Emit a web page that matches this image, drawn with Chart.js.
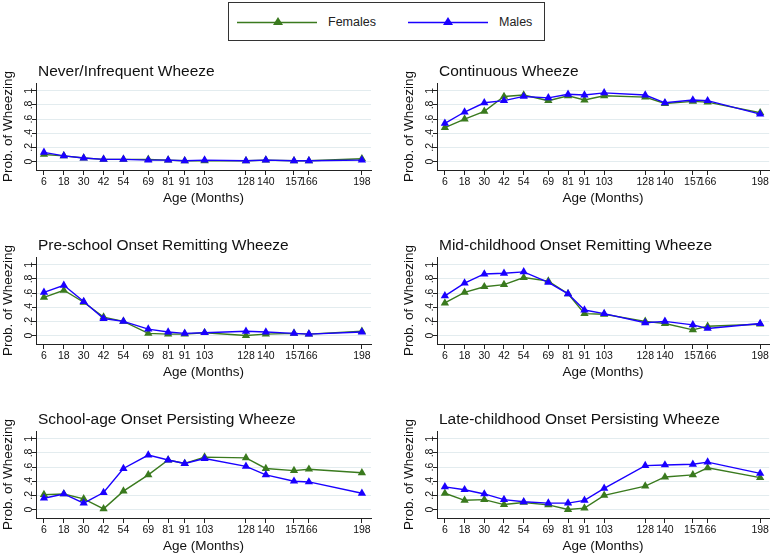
<!DOCTYPE html>
<html>
<head>
<meta charset="utf-8">
<script src="https://cdn.jsdelivr.net/npm/chart.js@4"></script>
<style>
  html, body { margin: 0; padding: 0; background: #fff; }
  body { width: 774px; height: 555px; position: relative; overflow: hidden; font-family: "Liberation Sans", Arial, sans-serif; }
  canvas { position: absolute; }
  #legend { position: absolute; left: 228px; top: 2px; width: 315px; height: 37px; border: 1px solid #333; box-sizing: content-box; }
  .lg { position: absolute; top: 0; height: 37px; }
  .lgt { position: absolute; top: 12px; font-size: 12.5px; color: #222; }
</style>
</head>
<body>
<div id="legend">
  <svg class="lg" style="left:8px" width="82" height="37"><line x1="0" y1="19.5" x2="80" y2="19.5" stroke="#3a7a1e" stroke-width="1.5"/><polygon points="41,14 46,22 36,22" fill="#3a7a1e"/></svg>
  <span class="lgt" style="left:99px">Females</span>
  <svg class="lg" style="left:179px" width="82" height="37"><line x1="0" y1="19.5" x2="80" y2="19.5" stroke="#1a00ff" stroke-width="1.5"/><polygon points="40,14 45,22 35,22" fill="#1a00ff"/></svg>
  <span class="lgt" style="left:270px">Males</span>
</div>
<canvas id="c0"></canvas>
<canvas id="c1"></canvas>
<canvas id="c2"></canvas>
<canvas id="c3"></canvas>
<canvas id="c4"></canvas>
<canvas id="c5"></canvas>
<script>
// ---- data ----
const ages = [6, 18, 30, 42, 54, 69, 81, 91, 103, 128, 140, 157, 166, 198];
const yTickValues = [0, 0.2, 0.4, 0.6, 0.8, 1];
const yTickLabels = ['0', '.2', '.4', '.6', '.8', '1'];
const panelTitles = [
  'Never/Infrequent Wheeze',
  'Continuous Wheeze',
  'Pre-school Onset Remitting Wheeze',
  'Mid-childhood Onset Remitting Wheeze',
  'School-age Onset Persisting Wheeze',
  'Late-childhood Onset Persisting Wheeze'
];
const seriesNames = ['Females', 'Males'];

const neverFemales      = [0.10, 0.08, 0.05, 0.03, 0.03, 0.03, 0.02, 0.01, 0.01, 0.01, 0.02, 0.01, 0.01, 0.04];
const neverMales        = [0.13, 0.08, 0.05, 0.03, 0.03, 0.02, 0.02, 0.01, 0.02, 0.01, 0.02, 0.01, 0.01, 0.02];
const continuousFemales = [0.48, 0.60, 0.71, 0.92, 0.94, 0.86, 0.93, 0.87, 0.93, 0.91, 0.82, 0.85, 0.84, 0.69];
const continuousMales   = [0.54, 0.70, 0.83, 0.86, 0.92, 0.90, 0.95, 0.94, 0.97, 0.94, 0.83, 0.87, 0.86, 0.67];
const preschoolFemales  = [0.54, 0.64, 0.47, 0.26, 0.20, 0.03, 0.02, 0.02, 0.04, 0.00, 0.02, 0.03, 0.02, 0.06];
const preschoolMales    = [0.61, 0.71, 0.48, 0.24, 0.20, 0.09, 0.05, 0.03, 0.04, 0.06, 0.05, 0.03, 0.02, 0.05];
const midFemales        = [0.46, 0.61, 0.69, 0.72, 0.82, 0.77, 0.59, 0.31, 0.30, 0.20, 0.17, 0.08, 0.13, 0.16];
const midMales          = [0.56, 0.74, 0.87, 0.88, 0.90, 0.75, 0.59, 0.36, 0.31, 0.18, 0.20, 0.15, 0.10, 0.17];
const schoolFemales     = [0.21, 0.22, 0.15, 0.01, 0.26, 0.49, 0.70, 0.65, 0.74, 0.73, 0.58, 0.55, 0.57, 0.52];
const schoolMales       = [0.16, 0.22, 0.09, 0.24, 0.58, 0.77, 0.70, 0.65, 0.72, 0.61, 0.49, 0.40, 0.39, 0.23];
const lateFemales       = [0.23, 0.13, 0.14, 0.07, 0.10, 0.065, 0.00, 0.02, 0.20, 0.33, 0.46, 0.49, 0.59, 0.45];
const lateMales         = [0.32, 0.28, 0.22, 0.14, 0.11, 0.09, 0.09, 0.13, 0.30, 0.62, 0.63, 0.64, 0.67, 0.51];

const femalesByPanel = [neverFemales, continuousFemales, preschoolFemales, midFemales, schoolFemales, lateFemales];
const malesByPanel   = [neverMales, continuousMales, preschoolMales, midMales, schoolMales, lateMales];

// ---- style / layout ----
const FONT = '"Liberation Sans", Arial, sans-serif';
const GREEN = '#3a7a1e';
const BLUE = '#1a00ff';
const CANVAS_H = 153;
const colLeft = [0, 401];
const colWidth = [387, 373];
const padRight = [16, 1];
const rowTop = [53, 227, 401];

const panelTitlePlugin = {
  id: 'panelTitle',
  afterDraw(chart, args, opts) {
    const ctx = chart.ctx;
    ctx.save();
    ctx.font = '15.5px ' + FONT;
    ctx.fillStyle = '#111';
    ctx.textBaseline = 'alphabetic';
    ctx.textAlign = 'left';
    ctx.fillText(opts.text, chart.chartArea.left + 2, chart.chartArea.top - 7);
    ctx.restore();
  }
};

for (let i = 0; i < 6; i++) {
  const col = i % 2, row = Math.floor(i / 2);
  const cv = document.getElementById('c' + i);
  cv.width = colWidth[col];
  cv.height = CANVAS_H;
  cv.style.left = colLeft[col] + 'px';
  cv.style.top = rowTop[row] + 'px';
  const pts = arr => ages.map((a, k) => ({ x: a, y: arr[k] }));
  new Chart(cv, {
    type: 'line',
    data: {
      datasets: [
        { label: seriesNames[0], data: pts(femalesByPanel[i]), borderColor: GREEN, backgroundColor: GREEN,
          borderWidth: 1.4, pointStyle: 'triangle', pointRadius: 4.8, pointBorderWidth: 0, tension: 0, order: 1 },
        { label: seriesNames[1], data: pts(malesByPanel[i]), borderColor: BLUE, backgroundColor: BLUE,
          borderWidth: 1.4, pointStyle: 'triangle', pointRadius: 4.8, pointBorderWidth: 0, tension: 0, order: 0 }
      ]
    },
    options: {
      responsive: false,
      animation: false,
      devicePixelRatio: 1,
      layout: { padding: { left: 0, right: padRight[col], top: 30, bottom: 0 } },
      plugins: {
        legend: { display: false },
        tooltip: { enabled: false },
        panelTitle: { text: panelTitles[i] }
      },
      scales: {
        x: {
          type: 'linear',
          min: 1.2, max: 203.5,
          afterBuildTicks: s => { s.ticks = ages.map(v => ({ value: v })); },
          afterFit: s => { s.height = 36; s.paddingLeft = 0; s.paddingRight = 0; },
          grid: { drawOnChartArea: false, tickLength: 5, tickColor: '#222', lineWidth: 1 },
          border: { color: '#222', width: 1 },
          ticks: { autoSkip: false, maxRotation: 0, minRotation: 0, padding: 1, color: '#111',
                   font: { family: FONT, size: 10.5 }, callback: v => String(v) },
          title: { display: true, text: 'Age (Months)', color: '#111', padding: { top: 0, bottom: 0 },
                   font: { family: FONT, size: 13.5 } }
        },
        y: {
          type: 'linear',
          min: -0.12, max: 1.11,
          afterBuildTicks: s => { s.ticks = yTickValues.map(v => ({ value: v })); },
          afterFit: s => { s.width = 36; s.paddingTop = 0; s.paddingBottom = 0; },
          grid: { color: '#e3ecef', lineWidth: 1, tickLength: 4, tickColor: '#222' },
          border: { color: '#222', width: 1 },
          ticks: { minRotation: 90, maxRotation: 90, crossAlign: 'center', padding: -1, color: '#111',
                   font: { family: FONT, size: 10.5 },
                   callback: (v, idx) => yTickLabels[idx] },
          title: { display: true, text: 'Prob. of Wheezing', color: '#111', padding: { top: 0, bottom: 0 },
                   font: { family: FONT, size: 13.5 } }
        }
      }
    },
    plugins: [panelTitlePlugin]
  });
}
</script>
</body>
</html>
